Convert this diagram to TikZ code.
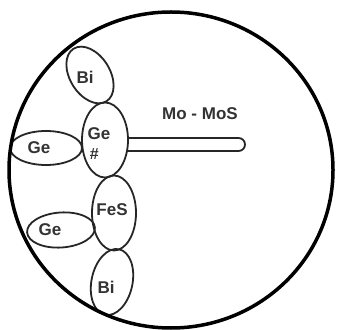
\documentclass[tikz,border=0pt]{standalone}
\usepackage{fontspec}
\setmainfont{Liberation Sans}
\usetikzlibrary{shapes.geometric}
\begin{document}
\begin{tikzpicture}[x=1pt,y=1pt,
  grain/.style={draw=black!85, line width=1.8pt, ellipse, inner sep=0pt},
  lbl/.style={font=\fontsize{17}{17}\selectfont\bfseries, text=black!80, inner sep=0pt},
  outer/.style={draw=black, line width=3.5pt}]
\useasboundingbox (0,0) rectangle (339,329);
\fill[white] (0,0) rectangle (339,329);
\begin{scope}
\clip (171,159) ellipse [x radius=161, y radius=157];
\node[grain, minimum width=40pt, minimum height=62pt, rotate=32] (bitop) at (90,254) {};
\node[grain, minimum width=46pt, minimum height=75pt] (gecen) at (105,189) {};
\node[grain, minimum width=72pt, minimum height=34pt] (geleft) at (46,181) {};
\node[grain, minimum width=44pt, minimum height=75pt] (fes) at (114,116) {};
\node[grain, minimum width=68pt, minimum height=35pt, rotate=4] (gelow) at (61,99) {};
\node[grain, minimum width=41pt, minimum height=67pt, rotate=-12] (bibot) at (112,47) {};
\end{scope}
\node[outer, ellipse, minimum width=324pt, minimum height=316pt, inner sep=0pt] (grain) at (171,159) {};
% rod
\coordinate (rodtop) at (gecen.east |- 0,191);
\coordinate (rodbot) at (gecen.east |- 0,178);
\draw[draw=black!85, line width=1.8pt] ([xshift=-1pt]rodtop) -- (238.5,191) arc[start angle=90, end angle=-90, radius=6.5] -- ([xshift=-1pt]rodbot);
% labels
\node[lbl] (t1) at (85,252) {Bi};
\node[lbl] (t2) at (99,195) {Ge};
\node[lbl, font=\fontsize{16}{16}\selectfont\bfseries\itshape] (t3) at (94,175) {\#};
\node[lbl] (t4) at (39,181) {Ge};
\node[lbl] (t5) at (112,119) {FeS};
\node[lbl] (t6) at (50,99) {Ge};
\node[lbl] (t7) at (106,42) {Bi};
\node[lbl] (t8) at (200,215) {Mo - MoS};
\end{tikzpicture}
\end{document}
